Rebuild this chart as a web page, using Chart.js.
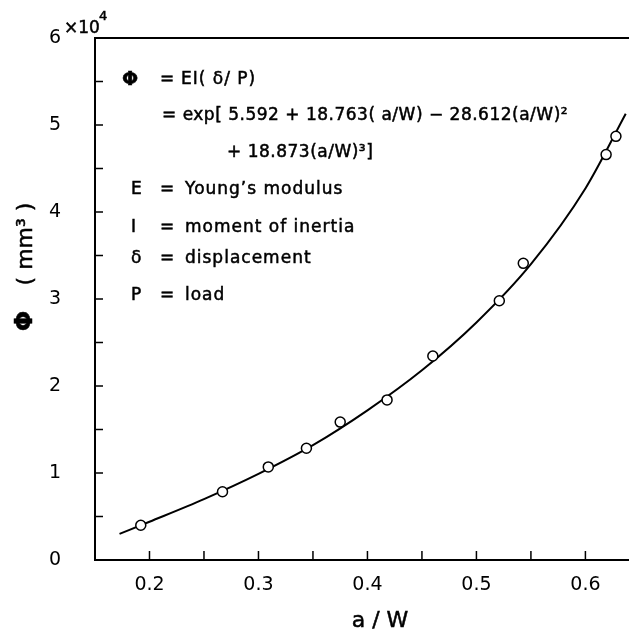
<!DOCTYPE html>
<html>
<head>
<meta charset="utf-8">
<script src="https://cdn.jsdelivr.net/npm/chart.js@4.4.1/dist/chart.umd.min.js"></script>
<style>
  html, body { margin: 0; padding: 0; background: #fff; }
</style>
</head>
<body>
<canvas id="phiChart" width="629" height="635"></canvas>
<script>
// measured points (a/W, Phi in mm^3)
var measuredX = [0.192, 0.267, 0.309, 0.344, 0.375, 0.418, 0.460, 0.521, 0.543, 0.619, 0.628];
var measuredPhi = [4000, 7850, 10700, 12850, 15850, 18400, 23450, 29800, 34100, 46600, 48700];
// fitted curve
var fitX = [0.1725, 0.2, 0.25, 0.3, 0.35, 0.4, 0.45, 0.5, 0.55, 0.6, 0.637];
var fitPhi = [3000, 4400, 7000, 9900, 13200, 17200, 21800, 27300, 34000, 42700, 51300];
// labelled ticks (y in units of 10^4)
var xTickLabels = [0.2, 0.3, 0.4, 0.5, 0.6];
var yTickLabels = [0, 1, 2, 3, 4, 5, 6];

var FONT = '"DejaVu Sans", sans-serif';

function pairs(xs, ys) {
  return xs.map(function (x, i) { return { x: x, y: ys[i] }; });
}

function isLabelled(list, v) {
  return list.some(function (t) { return Math.abs(t - v) < 1e-6; });
}

var innerTicks = {
  id: 'innerTicks',
  afterDraw: function (chart) {
    var c = chart.ctx, a = chart.chartArea;
    var xs = chart.scales.x, ys = chart.scales.y;
    c.save();
    c.strokeStyle = '#000';
    c.lineWidth = 1.5;
    c.beginPath();
    xs.ticks.forEach(function (t) {
      var r = Math.round(t.value * 20);
      if (Math.abs(t.value * 20 - r) > 1e-6) return;
      var px = xs.getPixelForValue(t.value);
      if (px <= a.left + 2 || px >= a.right - 2) return;
      c.moveTo(px, a.bottom);
      c.lineTo(px, a.bottom - 9);
    });
    ys.ticks.forEach(function (t) {
      var py = ys.getPixelForValue(t.value);
      if (py >= a.bottom - 2 || py <= a.top + 2) return;
      c.moveTo(a.left, py);
      c.lineTo(a.left + 8, py);
    });
    c.stroke();
    // top frame line
    c.lineWidth = 2;
    c.beginPath();
    c.moveTo(a.left, a.top);
    c.lineTo(a.right, a.top);
    c.stroke();
    c.restore();
  }
};

// slightly heavier text, like the original typesetting
function text(c, s, x, y) {
  c.fillText(s, x, y);
  c.strokeText(s, x, y);
}

var annotations = {
  id: 'annotations',
  afterDraw: function (chart) {
    var c = chart.ctx;
    c.save();
    c.fillStyle = '#000';
    c.strokeStyle = '#000';
    c.lineWidth = 0.5;
    c.textBaseline = 'middle';
    c.textAlign = 'left';
    c.letterSpacing = '1px';

    c.font = 'bold 19px ' + FONT;
    text(c, '\u03A6', 122, 80);
    c.font = '17px ' + FONT;
    text(c, '=', 160, 80);
    text(c, 'EI( \u03B4/ P)', 181, 80);
    c.letterSpacing = '0.5px';
    text(c, '= exp[ 5.592 + 18.763( a/W) \u2212 28.612(a/W)\u00B2', 162, 116);
    text(c, '+ 18.873(a/W)\u00B3]', 227, 153);
    c.letterSpacing = '1px';

    var rows = [['E', 'Young\u2019s modulus', 190], ['I', 'moment of inertia', 228],
                ['\u03B4', 'displacement', 259], ['P', 'load', 296]];
    rows.forEach(function (r) {
      text(c, r[0], 131, r[2]);
      text(c, '=', 160, r[2]);
      text(c, r[1], 185, r[2]);
    });

    // x10^4 multiplier
    c.letterSpacing = '0px';
    c.font = '17px ' + FONT;
    text(c, '\u00D710', 64, 29);
    c.font = '13px ' + FONT;
    text(c, '4', 99, 17);

    // axis titles
    c.textAlign = 'center';
    c.font = '22px ' + FONT;
    text(c, 'a / W', 380, 621);
    c.save();
    c.translate(26, 0);
    c.rotate(-Math.PI / 2);
    text(c, '( mm\u00B3 )', -244, 0);
    c.font = 'bold 24px ' + FONT;
    text(c, '\u03A6', -321, 0);
    c.restore();
    c.restore();
  }
};

var ctx = document.getElementById('phiChart').getContext('2d');
var myChart = new Chart(ctx, {
  type: 'scatter',
  data: {
    datasets: [
      {
        label: 'measured',
        data: pairs(measuredX, measuredPhi),
        pointStyle: 'circle',
        pointRadius: 5,
        pointBackgroundColor: '#fff',
        pointBorderColor: '#000',
        pointBorderWidth: 1.5,
        showLine: false
      },
      {
        label: 'fit',
        data: pairs(fitX, fitPhi),
        showLine: true,
        pointRadius: 0,
        borderColor: '#000',
        borderWidth: 2,
        cubicInterpolationMode: 'monotone'
      }
    ]
  },
  options: {
    responsive: false,
    animation: false,
    devicePixelRatio: 1,
    layout: { autoPadding: false, padding: { top: 38, right: 0, left: 0, bottom: 0 } },
    plugins: {
      legend: { display: false },
      tooltip: { enabled: false }
    },
    scales: {
      x: {
        type: 'linear',
        min: 0.15,
        max: 0.64,
        afterFit: function (s) { s.height = 75; s.paddingRight = 0; s.paddingLeft = 0; },
        grid: { display: false },
        border: { display: true, color: '#000', width: 2 },
        ticks: {
          stepSize: 0.05,
          includeBounds: false,
          autoSkip: false,
          maxRotation: 0,
          padding: 6,
          color: '#000',
          font: { family: FONT, size: 19 },
          callback: function (v) { return isLabelled(xTickLabels, v) ? v.toFixed(1) : ''; }
        }
      },
      y: {
        min: 0,
        max: 60000,
        afterFit: function (s) { s.width = 95; s.paddingTop = 0; s.paddingBottom = 0; },
        grid: { display: false },
        border: { display: true, color: '#000', width: 2 },
        ticks: {
          stepSize: 5000,
          autoSkip: false,
          padding: 26,
          color: '#000',
          font: { family: FONT, size: 19 },
          callback: function (v) { return isLabelled(yTickLabels, v / 10000) ? String(v / 10000) : ''; }
        }
      }
    }
  },
  plugins: [innerTicks, annotations]
});
</script>
</body>
</html>
